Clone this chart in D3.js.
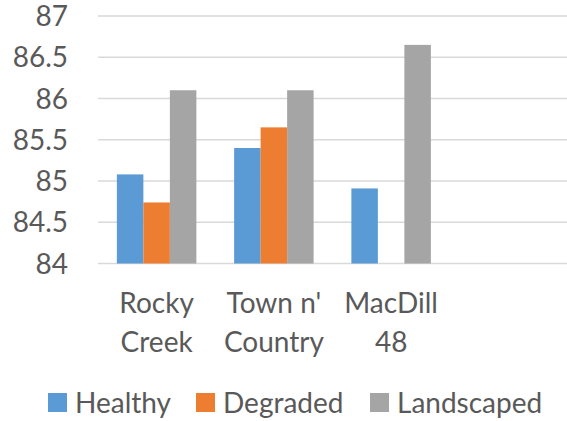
<!DOCTYPE html>
<html>
<head>
<meta charset="utf-8">
<script src="https://cdn.jsdelivr.net/npm/d3@7"></script>
<style>
  html, body { margin: 0; padding: 0; background: #fff; }
  svg { display: block; font-family: Lato, "Open Sans", sans-serif; }
</style>
</head>
<body>
<svg id="chart" width="567" height="421"></svg>
<script>
// Sites along the x axis (the fourth slot is left empty)
const categories = [["Rocky", "Creek"], ["Town n'", "Country"], ["MacDill", "48"], [""]];
const seriesNames = ["Healthy", "Degraded", "Landscaped"];
const healthy    = [85.08, 85.40, 84.91, null];
const degraded   = [84.74, 85.65, null, null];
const landscaped = [86.10, 86.10, 86.65, null];
const yTicks = [84, 84.5, 85, 85.5, 86, 86.5, 87];
const colors = ["#5b9bd5", "#ed7d31", "#a5a5a5"];

(function draw() {
  const series = [healthy, degraded, landscaped];
  const svg = d3.select("#chart");
  const plotLeft = 98, plotRight = 567, plotTop = 16, plotBottom = 263.5;

  const x = d3.scaleBand()
    .domain(categories.map((c, i) => i))
    .range([plotLeft, plotRight])
    .paddingInner(0.322)
    .paddingOuter(0.161);
  const xs = d3.scaleBand().domain(seriesNames).range([0, x.bandwidth()]);
  const y = d3.scaleLinear().domain([84, 87]).range([plotBottom, plotTop]);

  // horizontal gridlines
  svg.append("g").selectAll("line").data(yTicks).join("line")
    .attr("x1", plotLeft).attr("x2", plotRight)
    .attr("y1", d => y(d)).attr("y2", d => y(d))
    .attr("stroke", "#d9d9d9").attr("stroke-width", 1.3);

  // y tick labels
  svg.append("g").selectAll("text").data(yTicks).join("text")
    .attr("x", 68).attr("y", d => y(d) + 10)
    .attr("text-anchor", "end")
    .attr("font-size", 28)
    .attr("fill", "#595959")
    .text(d => d3.format("~g")(d));

  // bars
  series.forEach((vals, si) => {
    svg.append("g").selectAll("rect")
      .data(vals.map((v, i) => ({ v, i })).filter(d => d.v != null))
      .join("rect")
      .attr("x", d => x(d.i) + xs(seriesNames[si]))
      .attr("width", xs.bandwidth())
      .attr("y", d => y(d.v))
      .attr("height", d => y(84) - y(d.v))
      .attr("fill", colors[si]);
  });

  // category labels (two lines)
  const cat = svg.append("g").selectAll("text").data(categories).join("text")
    .attr("text-anchor", "middle")
    .attr("font-size", 28)
    .attr("fill", "#595959")
    .attr("transform", (d, i) => `translate(${x(i) + x.bandwidth() / 2},313)`);
  cat.selectAll("tspan").data(d => d).join("tspan")
    .attr("x", 0).attr("y", (d, j) => j * 39)
    .text(d => d);

  // legend
  const legendX = [48, 196, 370];
  const lg = svg.append("g").selectAll("g").data(seriesNames).join("g")
    .attr("transform", (d, i) => `translate(${legendX[i]},393)`);
  lg.append("rect").attr("width", 19).attr("height", 19).attr("fill", (d, i) => colors[i]);
  lg.append("text").attr("x", 27).attr("y", 20)
    .attr("font-size", 28).attr("fill", "#595959")
    .text(d => d);
})();
</script>
</body>
</html>
